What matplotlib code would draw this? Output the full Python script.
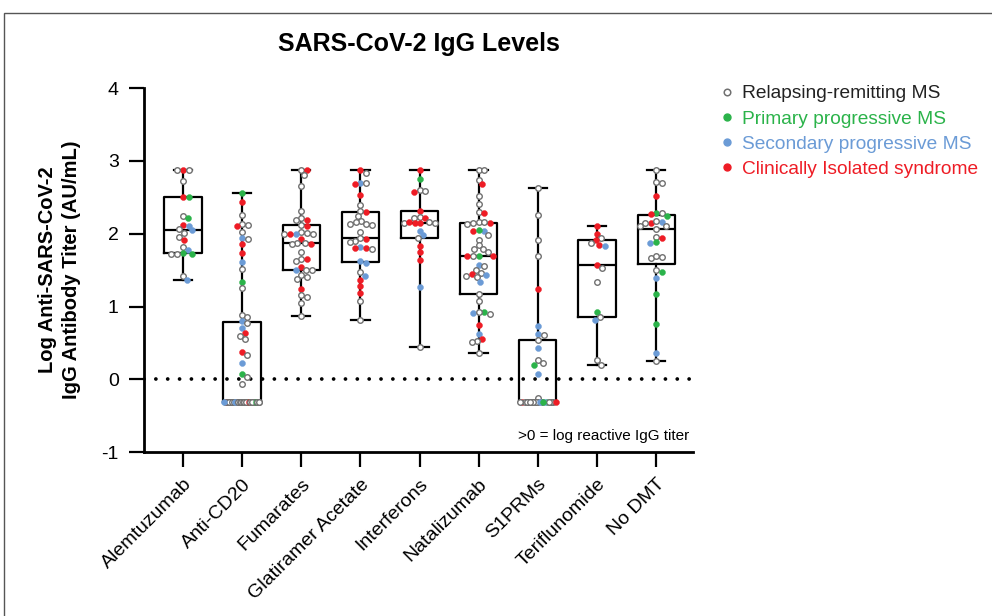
#Import necessary libraries
import numpy as np
import matplotlib
matplotlib.use("Agg")
import matplotlib.pyplot as plt
from matplotlib.lines import Line2D
from matplotlib.patches import Rectangle

plt.rcParams['font.family'] = ['Liberation Sans', 'DejaVu Sans']

#Data (log titer, diagnosis code per patient)
# R = relapsing-remitting, P = primary progressive, S = secondary progressive, C = CIS
categories = ["Alemtuzumab", "Anti-CD20", "Fumarates", "Glatiramer Acetate",
              "Interferons", "Natalizumab", "S1PRMs", "Teriflunomide", "No DMT"]

alem_vals = [2.87, 2.87, 2.87, 2.73, 2.51, 2.51, 2.24, 2.21, 2.12, 2.11, 2.06, 2.05,
             2.01, 1.96, 1.92, 1.82, 1.78, 1.74, 1.72, 1.72, 1.72, 1.42, 1.37]
alem_type = "CRRRCPRPCSRSRRCRSPRPRRS"

cd20_vals = [2.56, 2.43, 2.26, 2.14, 2.12, 2.10, 2.03, 1.94, 1.93, 1.86, 1.73, 1.61,
             1.51, 1.34, 1.25, 0.88, 0.85, 0.80, 0.77, 0.70, 0.63, 0.59, 0.55, 0.38,
             0.33, 0.22, 0.07, 0.03, -0.07] + [-0.31] * 44
cd20_type = ("PCRRRCRSRCCSRPRRRSRSCRRCRSPRR"
             "RRCRRRPRSRR" "RCRRRRSRRPR" "RRRCRRRRSRR" "RRRRCRRPRRS")

fum_vals = [2.87, 2.87, 2.80, 2.66, 2.31, 2.21, 2.19, 2.19, 2.12, 2.11, 2.02, 2.00,
            1.99, 2.00, 2.00, 2.01, 1.93, 1.87, 1.86, 1.87, 1.86, 1.75, 1.65, 1.65,
            1.62, 1.54, 1.50, 1.50, 1.50, 1.43, 1.40, 1.38, 1.24, 1.16, 1.13, 1.05, 0.87]
fum_type = "RCRRRRCRRCRSRCRRCRCRRRRCRCRSRRRRCRRRR"

gla_vals = [2.87, 2.84, 2.70, 2.68, 2.69, 2.53, 2.40, 2.30, 2.31, 2.24, 2.18, 2.14,
            2.13, 2.12, 2.16, 2.02, 1.93, 1.94, 1.90, 1.89, 1.82, 1.80, 1.80, 1.79,
            1.62, 1.60, 1.47, 1.42, 1.37, 1.28, 1.18, 1.08, 0.81]
gla_type = "CRSCRCRCRRRRRRRRCRRRSCCRSSRSCCCRR"

ifn_vals = [2.87, 2.75, 2.60, 2.58, 2.57, 2.31, 2.23, 2.22, 2.21, 2.16, 2.15, 2.15,
            2.15, 2.15, 2.16, 2.04, 1.98, 1.94, 1.83, 1.75, 1.64, 1.27, 0.44]
ifn_type = "CPRRCCRCRRCRRCCSSRCCCSR"

nat_vals = [2.87, 2.87, 2.74, 2.68, 2.52, 2.41, 2.30, 2.28, 2.15, 2.16, 2.15, 2.14,
            2.16, 2.04, 2.04, 2.05, 1.98, 1.92, 1.84, 1.79, 1.79, 1.75, 1.70, 1.70,
            1.70, 1.70, 1.57, 1.56, 1.50, 1.46, 1.42, 1.44, 1.43, 1.40, 1.33, 1.17,
            1.08, 0.92, 0.90, 0.91, 0.93, 0.75, 0.62, 0.56, 0.52, 0.51, 0.36]
nat_type = "RRRCRRRCRRCRRSCPRRRRRRPRCCSRRRRCSRSRRPRSRCSCRRR"

s1p_vals = [2.63, 2.26, 1.91, 1.70, 1.24, 0.73, 0.62, 0.61, 0.54, 0.43, 0.26, 0.23,
            0.20, 0.08, -0.25] + [-0.31] * 20
s1p_type = "RRRRCSSRRSRRPSR" "RRPRRCRRSRRRCRSRRRPR"

ter_vals = [2.10, 1.99, 1.94, 1.91, 1.87, 1.84, 1.83, 1.57, 1.53, 1.34, 0.93, 0.86,
            0.82, 0.26, 0.20]
ter_type = "CCRCRCSCRRPRSRR"

nodmt_vals = [2.87, 2.71, 2.69, 2.52, 2.29, 2.27, 2.28, 2.24, 2.15, 2.15, 2.16, 2.17,
              2.11, 2.10, 2.07, 1.96, 1.94, 1.87, 1.88, 1.68, 1.67, 1.70, 1.50, 1.48,
              1.39, 1.17, 0.76, 0.36, 0.25]
nodmt_type = "RRRCPCRPCRSRRRRRCSPRRRRPSPPSR"

group_vals = [alem_vals, cd20_vals, fum_vals, gla_vals, ifn_vals, nat_vals,
              s1p_vals, ter_vals, nodmt_vals]
group_type = [alem_type, cd20_type, fum_type, gla_type, ifn_type, nat_type,
              s1p_type, ter_type, nodmt_type]

legend_labels = {"R": "Relapsing-remitting MS", "P": "Primary progressive MS",
                 "S": "Secondary progressive MS", "C": "Clinically Isolated syndrome"}
dot_colors = {"R": "white", "P": "#2bb34a", "S": "#6b9bd6", "C": "#ee1c25"}
text_colors = {"R": "#222222", "P": "#2bb34a", "S": "#6b9bd6", "C": "#ee1c25"}
GRAY_EDGE = "#707070"

#Figure layout
fig = plt.figure(figsize=(9.92, 6.16), dpi=100)
ax = fig.add_axes([0.145, 0.266, 0.554, 0.591])
ax.set_xlim(-0.66, 8.63)
ax.set_ylim(-1, 4)

# box stats (GraphPad style quartiles, whiskers min to max)
stats = []
for vals in group_vals:
    v = np.array(vals)
    q1, med, q3 = np.percentile(v, [25, 50, 75], method="weibull")
    stats.append(dict(med=med, q1=q1, q3=q3, whislo=v.min(), whishi=v.max(), fliers=[]))

ax.bxp(stats, positions=range(len(categories)), widths=0.63, showfliers=False,
       boxprops=dict(color="black", linewidth=1.6),
       medianprops=dict(color="black", linewidth=1.6),
       whiskerprops=dict(color="black", linewidth=1.6),
       capprops=dict(color="black", linewidth=1.6),
       capwidths=0.31, zorder=2, manage_ticks=False)

ax.axhline(0, color="black", linestyle=(0, (0.01, 3.15)), linewidth=2.7,
           dash_capstyle="round", zorder=1)

# simple beeswarm in pixel space
fig.canvas.draw()
p0 = ax.transData.transform((0, 0))
p1 = ax.transData.transform((1, 1))
sx, sy = p1[0] - p0[0], p1[1] - p0[1]
D = 5.8
LIMIT = 18.0


def swarm(vals):
    vals = np.array(vals)
    offs = np.zeros(len(vals))
    placed = []
    for i in np.argsort(-vals, kind="stable"):
        y = vals[i] * sy
        cands = [0.0]
        for px, py in placed:
            dy = abs(py - y)
            if dy < D:
                dx = np.sqrt(D * D - dy * dy)
                cands += [px + dx, px - dx]
        cands.sort(key=abs)
        chosen = None
        for c in cands:
            if abs(c) <= LIMIT and all((c - px) ** 2 + (y - py) ** 2 >= D * D - 1e-6
                                       for px, py in placed):
                chosen = c
                break
        if chosen is None:
            grid = np.linspace(-LIMIT, LIMIT, 49)
            best = -1
            for g in grid:
                m = min(np.hypot(g - px, y - py) for px, py in placed)
                if m > best + 1e-9:
                    best, chosen = m, g
        placed.append((chosen, y))
        offs[i] = chosen / sx
    return offs


for pos, (vals, types) in enumerate(zip(group_vals, group_type)):
    offs = swarm(vals)
    for v, t, o in zip(vals, types, offs):
        if t == "R":
            ax.plot(pos + o, v, "o", ms=4.0, mfc="white", mec=GRAY_EDGE, mew=1.0, zorder=3)
        else:
            ax.plot(pos + o, v, "o", ms=4.3, mfc=dot_colors[t], mec=dot_colors[t],
                    mew=0.3, zorder=3)

ax.set_xticks(range(len(categories)))
ax.set_xticklabels(categories, rotation=45, ha="right", rotation_mode="anchor", fontsize=14)
ax.set_yticks([-1, 0, 1, 2, 3, 4])
ax.set_yticklabels(["-1", "0", "1", "2", "3", "4"], fontsize=14)
ax.tick_params(direction="out", length=11, width=1.6)
ax.tick_params(axis="y", pad=7)
ax.tick_params(axis="x", pad=6)
for s in ["top", "right"]:
    ax.spines[s].set_visible(False)
for s in ["left", "bottom"]:
    ax.spines[s].set_linewidth(2)

ax.set_title("SARS-CoV-2 IgG Levels", fontsize=18, fontweight="bold", pad=27)
ax.set_ylabel("Log Anti-SARS-CoV-2\nIgG Antibody Titer (AU/mL)", fontsize=14.5,
              fontweight="bold", linespacing=1.35)
ax.yaxis.set_label_coords(-0.114, 0.5)
ax.text(0.993, 0.045, ">0 = log reactive IgG titer", transform=ax.transAxes,
        ha="right", va="center", fontsize=11)

handles = []
for k in ["R", "P", "S", "C"]:
    if k == "R":
        handles.append(Line2D([], [], ls="", marker="o", ms=4.7, mfc="white", mec=GRAY_EDGE, mew=1.1))
    else:
        handles.append(Line2D([], [], ls="", marker="o", ms=5.0, mfc=dot_colors[k], mec=dot_colors[k]))
leg = fig.legend(handles, [legend_labels[k] for k in ["R", "P", "S", "C"]],
                 loc="upper left", bbox_to_anchor=(0.726, 0.862), frameon=False,
                 fontsize=13.8, handlelength=0.7, handletextpad=0.45, labelspacing=0.4,
                 borderaxespad=0, borderpad=0)
for txt, k in zip(leg.get_texts(), ["R", "P", "S", "C"]):
    txt.set_color(text_colors[k])

# thin frame around the figure panel
fig.add_artist(Rectangle((4 / 992, -0.1), 1.2, 1 - 13 / 616 + 0.1, transform=fig.transFigure,
                         fill=False, edgecolor="#555555", linewidth=1.0, clip_on=False))

fig.savefig("out.png", dpi=100)
